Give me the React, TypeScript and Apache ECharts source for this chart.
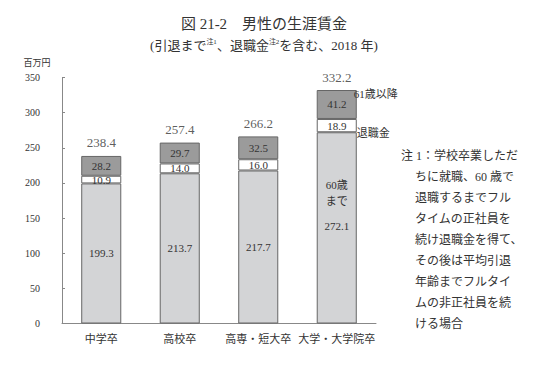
import React, { useEffect, useRef } from "react";
import * as echarts from "echarts";

const categories = ["中学卒", "高校卒", "高専・短大卒", "大学・大学院卒"];
const until60 = [199.3, 213.7, 217.7, 272.1];
const retirement = [10.9, 14.0, 16.0, 18.9];
const after61 = [28.2, 29.7, 32.5, 41.2];
const totals = [238.4, 257.4, 266.2, 332.2];
const noteFirst = "注 1：学校卒業しただ";
const noteLines = [
  "ちに就職、60 歳で",
  "退職するまでフル",
  "タイムの正社員を",
  "続け退職金を得て、",
  "その後は平均引退",
  "年齢までフルタイ",
  "ムの非正社員を続",
  "ける場合",
];

const FONT = "'Liberation Serif', 'Noto Sans CJK JP', serif";
const TXT = "#333";

export default function App() {
  const ref = useRef<HTMLDivElement>(null);
  useEffect(() => {
    if (!ref.current) return;
    const chart = echarts.init(ref.current, null, { renderer: "svg" });
    const fmt = (p: any) => Number(p.value).toFixed(1);
    const segLabel = { show: true, position: "inside", fontSize: 11, color: TXT, fontFamily: FONT, formatter: fmt };
    chart.setOption({
      animation: false,
      backgroundColor: "#fff",
      textStyle: { fontFamily: FONT },
      grid: { left: 62, right: 174, top: 77.5, bottom: 41.5, containLabel: false },
      xAxis: {
        type: "category",
        data: categories,
        axisLine: { lineStyle: { color: "#888" } },
        axisTick: { show: false },
        axisLabel: { interval: 0, fontSize: 11, color: TXT, margin: 10, fontFamily: FONT },
      },
      yAxis: {
        type: "value",
        min: 0,
        max: 350,
        interval: 50,
        axisLine: { show: true, lineStyle: { color: "#888" } },
        axisTick: { show: true, inside: true, length: 3, lineStyle: { color: "#888" } },
        splitLine: { show: false },
        axisLabel: { fontSize: 10, color: TXT, margin: 22, fontFamily: FONT },
      },
      series: [
        {
          name: "60歳まで",
          type: "bar",
          stack: "a",
          barWidth: "51%",
          itemStyle: { color: "#d3d4d6", borderColor: "#666", borderWidth: 1 },
          label: segLabel,
          data: until60.map((v, i) =>
            i === 3
              ? {
                  value: v,
                  label: {
                    formatter: "{a|60歳}\n{a|まで}\n{b|" + v.toFixed(1) + "}",
                    offset: [0, -18],
                    rich: {
                      a: { lineHeight: 16, fontSize: 11, color: TXT, fontFamily: FONT },
                      b: { lineHeight: 34, fontSize: 11, color: TXT, fontFamily: FONT },
                    },
                  },
                }
              : v
          ),
        },
        {
          name: "退職金",
          type: "bar",
          stack: "a",
          itemStyle: { color: "#ffffff", borderColor: "#666", borderWidth: 1 },
          label: segLabel,
          data: retirement,
          markPoint: {
            symbol: "circle",
            symbolSize: 0,
            itemStyle: { color: "rgba(0,0,0,0)" },
            label: { show: true, position: "right", distance: 20, fontSize: 11, color: TXT, fontFamily: FONT, formatter: "退職金" },
            data: [{ coord: [categories[3], 271] }],
          },
        },
        {
          name: "61歳以降",
          type: "bar",
          stack: "a",
          itemStyle: { color: "#9b9b9b", borderColor: "#666", borderWidth: 1 },
          label: segLabel,
          data: after61,
          markPoint: {
            symbol: "circle",
            symbolSize: 0,
            itemStyle: { color: "rgba(0,0,0,0)" },
            label: { show: true, position: "right", distance: 17, fontSize: 11, color: TXT, fontFamily: FONT, formatter: "61歳以降" },
            data: [{ coord: [categories[3], 326] }],
          },
        },
        {
          name: "合計",
          type: "scatter",
          symbolSize: 1,
          itemStyle: { color: "rgba(0,0,0,0)" },
          label: { show: true, position: "top", distance: 6, fontSize: 13, color: TXT, fontFamily: FONT, formatter: fmt },
          data: totals,
          z: 5,
        },
      ],
      graphic: [
        {
          type: "text",
          x: 264,
          y: 24,
          style: { text: "図 21-2　男性の生涯賃金", fontSize: 15, fill: TXT, fontFamily: FONT, textAlign: "center", textVerticalAlign: "middle" },
        },
        {
          type: "text",
          x: 264,
          y: 45,
          style: {
            text: "(引退まで{s|注1}、退職金{s|注2}を含む、2018 年)",
            fontSize: 13,
            fill: TXT,
            fontFamily: FONT,
            textAlign: "center",
            textVerticalAlign: "middle",
            rich: { s: { fontSize: 7, fill: TXT, fontFamily: FONT, padding: [0, 0, 7, 0] } },
          },
        },
        {
          type: "text",
          x: 37,
          y: 63,
          style: { text: "百万円", fontSize: 9, fill: TXT, fontFamily: FONT, textAlign: "center", textVerticalAlign: "middle" },
        },
        {
          type: "text",
          x: 401,
          y: 156,
          style: { text: noteFirst, fontSize: 12, fill: TXT, fontFamily: FONT, textAlign: "left", textVerticalAlign: "middle" },
        },
        {
          type: "text",
          x: 415,
          y: 166.5,
          style: { text: noteLines.join("\n"), fontSize: 12, lineHeight: 21, fill: TXT, fontFamily: FONT, textAlign: "left", textVerticalAlign: "top" },
        },
      ],
    });
    return () => chart.dispose();
  }, []);
  return <div ref={ref} style={{ position: "fixed", left: 0, top: 0, width: 550, height: 365 }} />;
}
